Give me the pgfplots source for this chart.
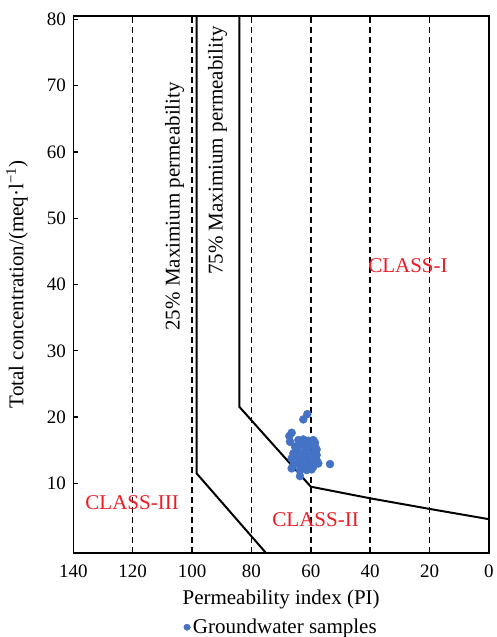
\documentclass[border=0pt]{standalone}
\usepackage{fontspec}
\setmainfont{Liberation Serif}
\usepackage{pgfplots}
\pgfplotsset{compat=1.18}
\definecolor{ptblue}{RGB}{68,114,196}
\definecolor{classred}{RGB}{237,28,36}
\begin{document}
\begin{tikzpicture}
\begin{axis}[
  width=415.7pt, height=537pt, scale only axis,
  x dir=reverse,
  xmin=0, xmax=140, ymin=-0.5, ymax=80.5,
  xtick={0,20,...,140}, ytick={10,20,...,80},
  tick pos=left, tick align=inside, major tick length=5pt,
  axis line style={line width=1.2pt},
  tick style={line width=1.2pt, black},
  /pgf/number format/assume math mode=true,
  tick label style={font=\fontsize{19}{19}\selectfont},
  xticklabel style={anchor=base, yshift=-24pt},
  yticklabel style={xshift=-4pt},
  label style={font=\fontsize{21}{21}\selectfont},
  xlabel={Permeability index (PI)},
  xlabel style={at={(axis description cs:0.5,0)}, anchor=base, yshift=-51pt},
  ylabel={Total concentration/(meq·l\textsuperscript{−1})},
  ylabel style={at={(axis description cs:-0.1354,0.5)}, anchor=center},
  legend style={at={(axis description cs:0.5,0)}, anchor=north, yshift=-63pt,
    draw=none, fill=none, font=\fontsize{21}{21}\selectfont, inner sep=1pt},
  legend cell align=left,
  legend image code/.code={\fill[ptblue] (3.2pt,0pt) circle (3.2pt); \path (0pt,0pt) -- (7pt,0pt);},
  clip=true,
]
% dashed guide lines
\addplot[black, line width=1.5pt, dash pattern=on 6pt off 4pt, forget plot] coordinates {(120,-0.5) (120,80.5)};
\addplot[black, line width=1.5pt, dash pattern=on 6pt off 4pt, forget plot] coordinates {(100,-0.5) (100,80.5)};
\addplot[black, line width=1.5pt, dash pattern=on 6pt off 4pt, forget plot] coordinates {(80,-0.5) (80,80.5)};
\addplot[black, line width=1.5pt, dash pattern=on 6pt off 4pt, forget plot] coordinates {(60,-0.5) (60,80.5)};
\addplot[black, line width=1.5pt, dash pattern=on 6pt off 4pt, forget plot] coordinates {(40,-0.5) (40,80.5)};
\addplot[black, line width=1.5pt, dash pattern=on 6pt off 4pt, forget plot] coordinates {(20,-0.5) (20,80.5)};
% boundary lines
\addplot[black, line width=2pt, forget plot] coordinates {(98.45,80.5) (98.45,11.5) (75.1,-0.5)};
\addplot[black, line width=2pt, forget plot] coordinates {(84.1,80.5) (84.1,21.56) (60,9.5) (40,7.75) (20,6.15) (0,4.6)};
% samples
\addplot[only marks, mark=*, mark size=4pt, color=ptblue, mark options={fill=ptblue, draw=ptblue}] coordinates {
(61.19,20.45) (62.54,19.65) (66.46,17.64) (67.25,17.14) (67.03,16.28)
(64.22,16.53) (62.54,16.63) (60.85,16.43) (59.17,16.53) (58.61,16.13)
(65.34,15.53) (63.66,15.78) (61.97,15.53) (60.29,15.78) (58.61,15.53) (58.04,15.12)
(65.90,14.52) (64.22,14.77) (62.54,14.52) (60.85,14.77) (59.17,14.52) (58.04,14.27)
(66.46,13.77) (64.78,14.02) (63.10,13.51) (61.41,13.77) (59.73,13.51) (58.04,13.51)
(65.90,12.76) (64.22,13.01) (62.54,12.51) (60.85,12.76) (59.17,12.51) (57.48,13.01)
(66.46,12.26) (63.66,12.01) (61.41,12.01) (59.73,12.11) (63.66,11.10) (53.55,12.91)
};
\addlegendentry{Groundwater samples}
% texts
\node[rotate=90, font=\fontsize{21}{21}\selectfont] at (axis cs:105.9,51.8) {25\% Maximium permeability};
\node[rotate=90, font=\fontsize{21}{21}\selectfont] at (axis cs:91.4,60.2) {75\% Maximium permeability};
\node[text=classred, font=\fontsize{21}{21}\selectfont] at (axis cs:27.3,42.9) {CLASS-I};
\node[text=classred, font=\fontsize{21}{21}\selectfont] at (axis cs:58.4,4.46) {CLASS-II};
\node[text=classred, font=\fontsize{21}{21}\selectfont] at (axis cs:120.2,7.1) {CLASS-III};
\end{axis}
\pgfresetboundingbox
\path (current axis.south west) ++(-73.3pt,-84pt) rectangle ++(497pt,637pt);
\end{tikzpicture}
\end{document}
